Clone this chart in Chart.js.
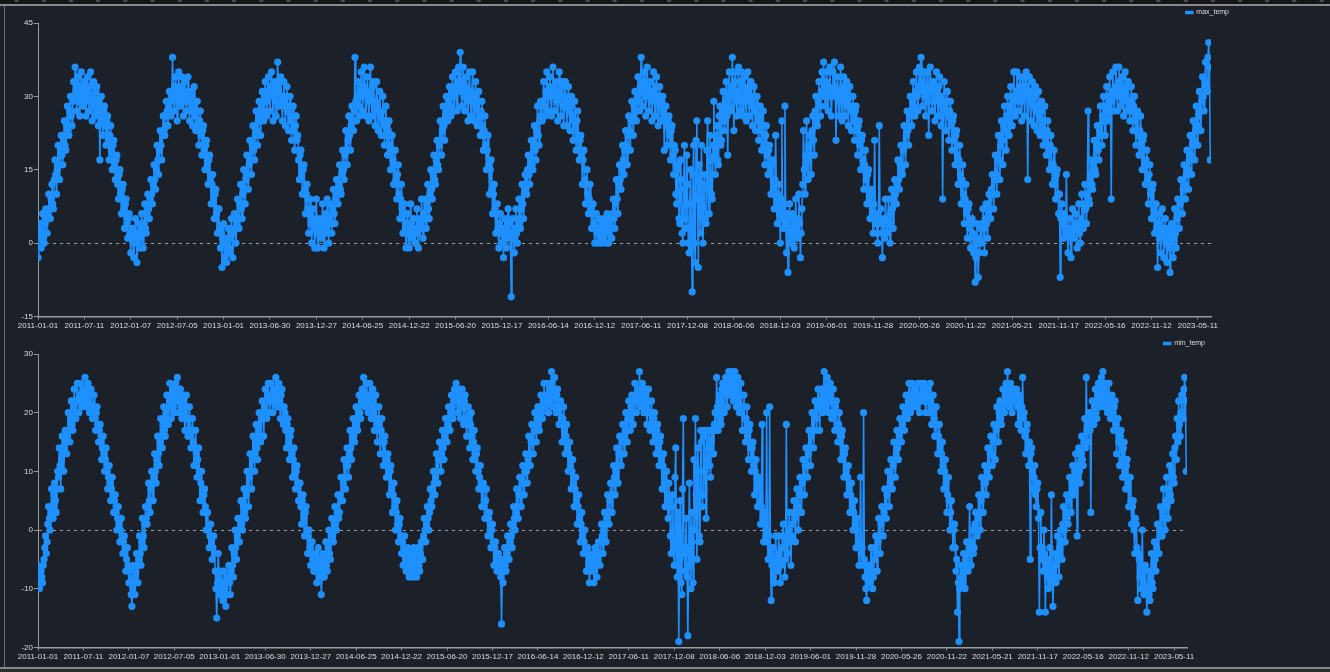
<!DOCTYPE html>
<html>
<head>
<meta charset="utf-8">
<title>max_temp / min_temp</title>
<script src="https://cdn.jsdelivr.net/npm/chart.js@4.4.1/dist/chart.umd.min.js"></script>
<style>
  html, body { margin: 0; padding: 0; background: #1c2028; overflow: hidden; }
  body { width: 1330px; height: 672px; position: relative; }
  #strip { position: absolute; left: 0; top: 0; width: 1330px; height: 4px; background-color: #14161a;
           background-image: radial-gradient(circle at 50% 0, #4a4d52 2px, transparent 2.6px);
           background-size: 27.2px 4px; background-position: 3px 0; }
  #topline { position: absolute; left: 0; top: 4px; width: 1330px; height: 2px; background: #8a8a8a; }
  #leftline { position: absolute; left: 4px; top: 6px; width: 1px; height: 661px; background: #6a6d72; }
  #botline { position: absolute; left: 0; top: 667px; width: 1330px; height: 2px; background: #8a8a8a; }
  #bottail { position: absolute; left: 0; top: 669px; width: 1330px; height: 3px; background: #2a2d31; }
  .box { position: absolute; left: 0; height: 327px; }
  #box1 { top: 6px; width: 1232px; }
  #box2 { top: 337px; width: 1208px; }
</style>
</head>
<body>
<div id="strip"></div>
<div id="topline"></div>
<div id="leftline"></div>
<div class="box" id="box1"><canvas id="maxChart"></canvas></div>
<div class="box" id="box2"><canvas id="minChart"></canvas></div>
<div id="botline"></div>
<div id="bottail"></div>
<script>
// tick labels shown on the category axis, one every 180 rows
const tickLabels = ['2011-01-01','2011-07-11','2012-01-07','2012-07-05','2013-01-01','2013-06-30',
  '2013-12-27','2014-06-25','2014-12-22','2015-06-20','2015-12-17','2016-06-14','2016-12-12',
  '2017-06-11','2017-12-08','2018-06-06','2018-12-03','2019-06-01','2019-11-28','2020-05-26',
  '2020-11-22','2021-05-21','2021-11-17','2022-05-16','2022-11-12','2023-05-11'];
const tickEvery = 180;   // rows between two labels
const lastRow = 4551;    // last row of the axis
const rowStep = 3;       // one value read every 3 rows

// daily max temperature (one value per 3 rows)
const maxTemp = [
  // 2011
  -3,1,4,2,-1,3,6,1,0,4,7,5, 2,6,10,7,5,9,12,8,7,13, 17,14,10,15,20,16,13,19,22,18,
  16,21,25,20,19,24,28,23,22,27, 30,26,24,29,33,30,36,31,27,32, 34,29,26,31,35,30,28,32,33,29,
  26,31,34,30,27,32,35,29,25,30, 33,28,26,31,32,27,24,29,17,28, 30,25,22,27,28,24,20,25,26,21,
  17,22,24,19,15,20,21,16,13,17, 18,12,9,14,15,10,6,11,12,7, 3,8,9,4,1,5,6,2,-2,1,
  // 2012
  3,0,-3,1,5,2,-4,0,4,1,-1,3, 6,2,-1,4,8,3,2,6,10,7, 5,9,13,10,8,12,16,13,11,15,
  20,17,14,19,23,20,17,22,26,23, 22,26,29,27,24,28,31,29,26,30, 38,31,27,32,34,30,25,31,35,29,
  28,32,34,30,26,31,33,29,27,30, 34,29,25,30,31,27,24,28,32,26, 23,27,29,24,20,25,27,22,18,23,
  24,19,15,20,21,16,12,17,18,13, 8,12,14,9,5,10,11,6,2,7, 7,3,-1,2,-5,1,4,0,-3,1,
  // 2013
  -4,0,3,-1,-2,1,5,2,-3,2,6,3, 0,4,9,5,3,8,12,7,5,10, 15,11,8,13,18,14,11,16,21,17,
  14,20,24,19,17,22,27,23,20,25, 29,26,22,28,31,27,25,30,33,29, 26,31,34,30,27,32,35,31,25,30,
  33,29,26,32,37,31,28,33,34,30, 25,29,33,28,24,30,32,27,23,28, 30,25,21,26,28,23,19,24,26,21,
  22,17,13,18,19,14,10,15,16,11, 6,10,12,7,2,6,9,4,0,5, 7,3,-1,4,9,2,-1,3,5,2,
  // 2014
  1,4,8,3,-1,5,6,2,9,4,0,5, 8,4,2,7,11,6,4,9,13,10, 8,12,16,11,10,14,19,15,13,18,
  23,19,16,21,26,22,19,24,28,25, 23,27,38,29,25,30,33,28,26,31, 35,30,27,32,36,31,26,30,34,29,
  25,31,36,30,26,32,33,28,24,29, 33,28,23,27,31,26,22,27,30,25, 20,24,28,22,18,23,25,20,15,19,
  22,17,12,16,19,13,9,14,16,10, 5,9,12,7,2,6,8,3,-1,4, 6,2,-1,3,8,4,1,3,5,2,
  // 2015
  0,3,7,2,-1,4,5,3,9,5,1,6, 9,5,3,8,12,7,5,10,15,11, 9,14,18,13,12,17,21,16,15,20,
  25,21,18,23,28,24,21,26,30,27, 25,29,32,28,26,31,34,30,27,32, 35,31,27,33,36,32,39,31,28,33,
  36,30,27,32,34,29,25,31,35,30, 26,31,35,29,25,30,33,28,24,29, 31,26,22,27,29,24,19,23,26,20,
  15,19,22,16,10,15,17,11,6,10, 12,7,2,6,8,3,-1,4,6,2, 0,3,-3,2,5,1,-1,3,7,2,
  // 2016
  4,1,-11,2,5,1,-2,3,7,2,0,5, 9,4,3,7,12,8,5,10,14,11, 10,15,18,14,12,17,21,16,15,20,
  24,19,17,23,28,22,20,25,29,26, 25,29,33,28,26,31,35,30,27,32, 34,30,26,31,36,32,27,30,33,29,
  25,30,35,31,26,32,33,28,24,30, 33,28,24,29,32,27,23,28,30,26, 21,25,29,24,19,25,27,22,17,21,
  22,18,12,17,19,13,8,12,15,10, 6,9,12,7,3,6,8,4,0,3, 6,2,0,3,5,1,0,2,4,1,
  // 2017
  5,2,0,3,6,2,0,4,5,3,1,6, 9,5,3,8,13,9,6,12,16,13, 11,15,20,17,14,19,23,20,16,22,
  26,23,19,25,29,26,22,28,31,27, 25,30,34,29,27,32,38,31,28,33, 35,30,26,32,36,31,27,30,33,29,
  25,31,35,30,26,32,34,29,24,30, 32,28,25,29,30,27,19,26,28,24, 20,25,26,22,17,23,24,18,14,20,
  19,10,8,15,16,5,4,17,13,2, 0,11,20,5,3,18,12,0,-2,8, 15,3,-10,14,20,0,-4,21,25,9,
  // 2018
  -5,16,10,2,20,7,0,12,14,5,4,19,25,11,6,22,17,10,9,20, 29,18,14,22,24,17,16,26,28,20,21,27,
  31,25,23,29,33,26,18,30,35,28, 27,32,38,30,23,33,35,29,26,31, 36,30,27,33,35,29,26,32,34,30,
  25,31,35,29,26,32,33,28,24,30, 32,27,23,28,30,25,21,26,28,23, 19,24,27,20,16,22,24,18,14,19,
  20,15,10,16,17,11,7,13,22,9, 4,10,12,6,0,9,25,5,3,8, 28,4,-2,6,-6,3,8,1,0,5,
  // 2019
  6,2,-1,4,9,3,1,5,10,4,-3,2,7,12, 23,15,10,18,25,17,13,20,
  22,18,14,23,26,21,18,27,30,25, 24,29,33,28,26,31,35,30,37,32, 28,33,35,30,27,32,36,31,26,30,
  35,31,37,32,21,30,34,29,26,31, 36,30,25,32,34,29,26,31,33,28, 24,30,32,27,23,28,30,25,21,27,
  28,23,18,24,25,20,15,21,22,17, 11,16,19,13,8,14,15,9,5,10, 11,6,2,8,21,4,6,2,0,5, 24,4,7,2,-3,4,5,1,9,4,
  // 2020
  2,5,9,4,0,6,11,7,3,9,13,10, 8,12,17,13,11,16,20,15,14,19, 24,20,16,22,27,23,20,26,30,27,
  24,29,33,28,26,31,35,30,27,32, 36,31,38,33,28,32,35,30,26,31, 35,29,22,32,36,31,27,32,33,29,
  25,31,35,30,26,32,34,29,24,30, 9,28,33,27,23,29,31,26,21,27, 29,24,19,25,26,21,16,22,23,18,
  12,17,20,14,8,13,16,10,4,9, 12,6,1,7,8,3,-1,4,5,2, -2,1,-8,-3,4,0,-7,-2,1,3,
  // 2021
  0,4,7,3,-2,5,8,4,1,6,10,7, 5,11,14,10,7,13,18,14,10,17, 22,17,13,20,25,21,16,24,28,23,
  19,26,30,25,22,28,32,27,24,30, 35,29,26,31,35,30,27,32,34,29, 25,31,34,30,26,32,35,30,13,31,
  34,29,25,31,33,28,24,30,32,27, 23,28,31,26,22,27,29,24,20,25, 28,22,18,23,25,19,15,20,22,16,
  12,16,19,13,9,14,15,10,6,10, -7,5,8,4,1,6,5,3,14,2, -2,3,5,1,-3,2,7,3,1,4,
  // 2022
  6,3,-1,4,8,2,0,5,10,4,3,8, 12,7,4,10,27,9,8,14,17,12, 11,16,21,15,14,20,24,19,17,23,
  28,22,20,26,30,25,22,28,32,27, 25,30,34,29,9,31,35,30,27,32, 36,31,27,33,36,30,28,32,34,29,
  26,31,35,30,27,32,33,28,25,29, 32,27,23,28,30,25,20,26,27,22, 18,23,26,20,15,21,22,16,12,17,
  19,13,8,14,16,10,5,11,12,7, 2,6,8,3,-5,4,6,1,-2,3, 7,2,-3,3,5,0,-4,2,3,-1,
  // 2023
  -6,0,4,1,-3,3,7,2,-1,5,9,6, 3,8,13,9,6,11,16,12,9,14, 19,15,11,17,22,18,14,20,25,21,
  17,23,28,24,20,26,31,27,23,29, 34,30,27,33,37,32,31,38,41,36, 17
];

// daily min temperature (one value per 3 rows)
const minTemp = [
  // 2011
  -6,-8,-10,-7,-7,-8,-9,-6,-5,-3,-1,-4, -2,1,4,2,0,3,7,4,2,6, 8,5,3,7,10,9,14,11,7,12,
  16,13,10,14,17,15,13,16,20,17, 15,19,22,18,17,21,24,20,19,22, 25,22,20,23,25,22,21,23,24,22,
  26,23,21,24,25,22,20,23,24,21, 19,21,23,20,17,20,21,18,15,17, 18,15,12,14,16,13,10,12,14,11,
  7,9,11,8,5,7,9,6,3,5, 6,3,0,2,4,1,-2,0,2,-1, -4,-2,-1,-3,-7,-5,-3,-6,-9,-7,
  // 2012
  -9,-11,-13,-10,-6,-8,-11,-7,-4,-6,-9,-5, -1,-4,-6,-2,2,-1,-3,1,4,2, 1,4,8,5,3,7,10,8,5,9,
  13,10,8,12,16,13,11,15,19,16, 14,18,21,17,16,20,23,19,18,21, 25,22,19,23,24,21,20,23,25,22,
  26,23,20,22,24,21,19,22,23,20, 17,21,23,19,16,19,21,17,14,17, 19,15,11,14,17,13,9,12,14,10,
  5,8,10,6,3,6,7,4,0,3, 3,0,-3,-1,1,-2,-5,-3,-1,-4, -7,-10,-15,-9,-4,-8,-11,-9,-7,-10,
  // 2013
  -12,-9,-7,-10,-13,-11,-9,-8,-6,-9,-11,-7, -3,-6,-8,-4,0,-3,-5,-1,2,0, -2,2,5,1,0,4,7,3,2,6,
  10,7,4,9,13,10,7,12,16,13, 10,15,18,14,12,17,20,16,15,19, 22,19,16,21,24,20,19,23,25,22,
  20,23,25,22,20,23,24,22,26,23, 21,24,25,22,19,23,24,21,18,21, 20,17,14,18,19,15,12,16,17,13,
  9,12,14,10,7,10,11,8,5,8, 8,4,1,5,6,2,-1,3,4,0, -4,-1,0,-3,-6,-4,-2,-5,-7,-5,
  // 2014
  -4,-7,-9,-6,-3,-5,-8,-6,-11,-8,-4,-7, -8,-5,-2,-6,-7,-3,0,-4,-5,-1, 2,-1,-2,1,4,1,0,3,6,2,
  3,6,9,5,5,8,12,9,7,11, 14,11,9,13,17,14,12,16,19,16, 15,18,21,18,17,20,23,20,19,22,
  24,22,26,23,21,23,25,22,20,23, 25,22,19,22,24,20,17,21,23,19, 15,18,21,17,13,17,19,15,11,15,
  16,12,9,12,13,10,6,10,11,7, 3,6,8,4,0,3,5,1,-2,1, 2,-1,-4,-2,-6,-3,-1,-4,-7,-5,
  // 2015
  -3,-6,-8,-5,-4,-7,-8,-5,-3,-6,-7,-4, -8,-5,-3,-6,-7,-4,-2,-5,-5,-1, 2,0,-2,1,4,2,0,3,7,5,
  4,7,10,8,6,9,13,10,8,12, 15,12,10,13,17,14,12,16,19,17, 15,18,21,19,17,20,23,21,19,22,
  24,22,25,22,20,23,24,21,19,22, 24,21,18,22,23,19,16,19,21,18, 14,18,20,16,12,15,17,13,10,13,
  14,10,7,9,11,8,4,7,8,5, 2,5,7,3,-1,2,3,0,-3,0, 1,-2,-6,-3,-2,-5,-7,-4,-4,-6,
  // 2016
  -5,-8,-16,-7,-9,-5,-3,-6,-7,-4,-1,-3, -5,-2,1,-1,-3,1,4,2,0,3, 7,4,2,6,9,6,4,8,11,8,
  6,10,13,10,8,12,16,13,11,15, 18,15,13,17,20,17,15,19,21,18, 17,21,23,20,19,22,25,22,21,23,
  25,23,20,22,24,25,27,24,21,23, 26,23,20,23,24,21,18,21,22,19, 15,19,21,17,13,16,18,14,10,13,
  15,11,7,10,12,8,4,7,9,5, 1,4,6,2,-2,1,3,-1,-4,-2, 0,-3,-7,-4,-3,-6,-9,-6,-5,-7,
  // 2017
  -6,-4,-9,-7,-3,-6,-8,-5,-2,-4,-6,-2, 1,-1,-4,0,3,1,-2,2,6,3, 1,5,8,6,3,8,11,9,6,10,
  14,11,8,13,16,13,11,15,18,16, 13,18,20,17,15,19,22,19,17,21, 23,20,18,22,25,22,20,23,24,22,
  27,23,21,24,25,22,20,23,24,21, 18,22,24,20,17,20,22,18,15,19, 20,16,13,17,18,14,11,15,16,12,
  7,11,13,8,4,10,10,5,2,8, 5,-1,-4,4,6,-3,-6,9,14,-2, -8,3,-19,-5,5,-9,-11,7,19,-4,
  // 2018
  -7,-3,2,-8,-18,-6,8,-4,-10,3,-2,-9,12,0,19,6,-5,14,10,-1,-2,17,15,4,6,16,17,10,2,17,
  12,14,17,11,9,15,17,13,13,18,20,17,
  26,21,17,22,23,19,18,24,25,21, 20,24,26,23,21,25,27,24,23,26, 27,24,22,25,27,23,21,24,26,22,
  20,23,25,21,17,21,23,19,15,19, 21,16,12,17,18,14,10,14,15,11, 6,10,12,7,4,8,9,5,1,4,
  18,2,-2,1,3,-1,20,-2,-5,-1, 21,-4,-12,-6,-3,-8,-9,-5,-1,-6,
  // 2019
  -7,-4,-1,-5,-9,-6,-3,-1,1,-3,-8,-5, 18,-2,-4,0,3,-2,-6,-1,1,3, 5,2,-2,3,7,4,0,6,9,6,
  3,8,12,9,6,11,14,11,9,13, 17,14,11,16,20,17,14,19,22,19, 17,21,24,21,17,22,24,22,20,24,
  27,23,21,24,26,22,20,23,25,22, 19,22,24,20,17,21,22,18,15,18, 20,15,12,16,17,13,9,13,14,10,
  6,9,11,7,3,6,8,4,0,3, 5,1,-3,0,2,-2,-6,-3,9,-4, -3,-6,20,-5,-8,-10,-12,-7,-6,-8,
  // 2020
  -9,-6,-3,-7,-10,-8,-5,-3,-1,-4,-7,-2, 2,-1,-4,1,4,2,-1,3,7,4, 2,6,10,7,4,8,12,9,7,11,
  15,12,9,13,17,14,12,16,19,17, 15,18,21,19,17,20,23,21,19,22, 25,22,20,23,25,23,21,22,24,23,
  21,23,25,23,20,22,25,23,22,24, 25,22,20,23,24,22,20,22,25,21, 18,20,23,19,16,18,21,16,13,16,
  18,14,10,13,15,11,7,10,12,8, 3,6,9,5,0,3,5,1,-3,0, 1,-3,-7,-5,-14,-9,-19,-10,-6,-8,
  // 2021
  -9,-6,-4,-7,-10,-5,-2,-6,-7,-4,4,-3, -6,-2,0,-4,-3,1,3,0,-1,2, 6,3,0,5,9,6,3,8,11,8,
  6,10,14,11,9,13,16,13,11,15, 18,15,12,17,21,18,15,20,22,19, 18,21,24,22,20,23,25,22,27,23,
  21,24,25,22,20,23,24,22,22,23, 24,21,18,22,23,19,17,21,26,19, 20,16,13,17,18,14,11,15,-5,13,
  14,10,7,9,11,6,4,7,8,2, -14,-3,3,-5,-3,-7,0,-4,-14,-6, -5,-8,-10,-6,-3,-9,6,-7,-13,-8,
  // 2022
  -4,-6,-9,-5,-1,-4,-8,-3,0,-2,-5,1, 4,0,-2,3,6,2,1,5,9,6, 3,8,11,7,6,10,13,9,-1,11,
  14,10,8,13,16,12,11,15,19,14, 26,17,15,18,20,17,3,19,22,18, 18,21,24,20,19,23,25,22,21,24,
  26,22,27,23,21,24,25,21,20,23, 25,21,19,22,23,20,17,21,22,18, 13,17,19,15,11,16,17,12,9,14,
  15,10,7,11,12,8,4,9,9,5, 1,4,5,0,-4,2,1,-3,-12,-4, -5,-8,-10,-6,0,-9,-11,-7,-6,-10,
  // 2023
  -14,-10,-7,-11,-12,-8,-4,-9,-10,-6,-2,-5, -7,-3,1,-4,-4,0,4,-1,-1,3, 7,2,0,5,9,4,2,7,11,6,
  5,10,13,9,8,14,16,12,19,15, 22,18,16,20,23,19,19,24,26,22, 10
];

const blue = 'rgb(30,144,255)';
const axisGrey = '#9a9a9a';
const textColor = '#dcdcdc';
const zeroLine = 'rgba(200,200,200,0.75)';
const font = { family: 'Liberation Sans, Arial, sans-serif', size: 8 };

function drawTemp(canvasId, label, values, yMin, yMax, yStep) {
  let ctx = document.getElementById(canvasId).getContext('2d');
  const points = values.map((v, i) => ({ x: i * rowStep, y: v }));
  return new Chart(ctx, {
    type: 'line',
    data: {
      datasets: [{
        label: label,
        data: points,
        borderColor: blue,
        backgroundColor: blue,
        borderWidth: 1.6,
        pointRadius: 3.6,
        pointBorderWidth: 0,
        pointBackgroundColor: blue,
        pointHoverRadius: 3.6,
        tension: 0
      }]
    },
    options: {
      responsive: true,
      maintainAspectRatio: false,
      devicePixelRatio: 1,
      animation: false,
      events: [],
      layout: { padding: 0 },
      plugins: {
        tooltip: { enabled: false },
        legend: {
          position: 'top',
          align: 'end',
          maxHeight: 17,
          labels: {
            color: textColor,
            font: { family: font.family, size: 7 },
            boxWidth: 7,
            boxHeight: 2,
            padding: 3
          }
        }
      },
      scales: {
        x: {
          type: 'linear',
          min: 0,
          max: lastRow,
          afterBuildTicks: scale => {
            scale.ticks = tickLabels.map((t, i) => ({ value: i * tickEvery }));
          },
          ticks: {
            callback: (value, index) => tickLabels[index],
            color: textColor,
            font: font,
            padding: 2,
            maxRotation: 0,
            autoSkip: false
          },
          grid: { display: true, drawOnChartArea: false, drawTicks: true, tickLength: 3, tickColor: axisGrey, tickWidth: 1 },
          border: { display: true, color: axisGrey, width: 1.5 }
        },
        y: {
          min: yMin,
          max: yMax,
          ticks: { stepSize: yStep, color: textColor, font: font, padding: 1 },
          grid: {
            drawOnChartArea: true,
            color: c => (c.tick && c.tick.value === 0) ? zeroLine : 'rgba(0,0,0,0)',
            tickColor: axisGrey,
            tickLength: 4,
            lineWidth: 1
          },
          border: { display: true, color: axisGrey, width: 1, dash: [3, 4] },
          afterFit: scale => { scale.width = 38; }
        },
        yR: {
          position: 'right',
          grid: { display: false },
          border: { display: false },
          ticks: { display: false },
          afterFit: scale => { scale.width = 21; }
        }
      }
    }
  });
}

drawTemp('maxChart', 'max_temp', maxTemp, -15, 45, 15);
drawTemp('minChart', 'min_temp', minTemp, -20, 30, 10);
</script>
</body>
</html>
